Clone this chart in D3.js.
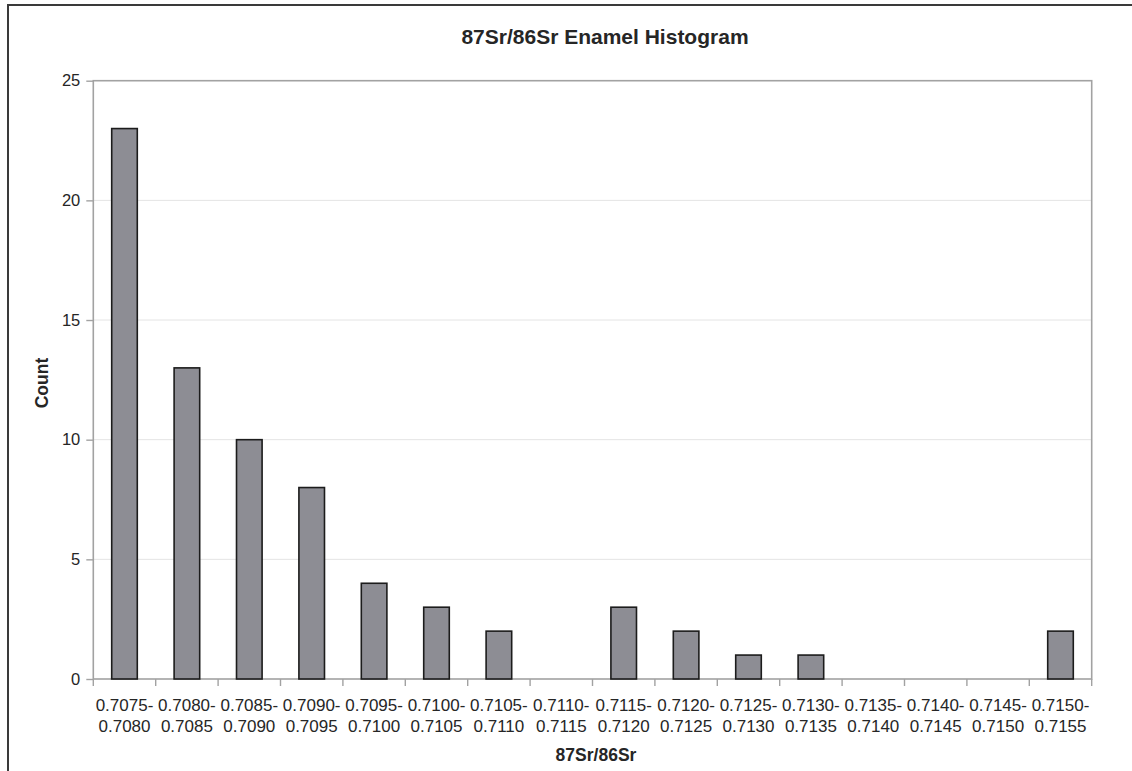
<!DOCTYPE html>
<html>
<head>
<meta charset="utf-8">
<script src="https://cdn.jsdelivr.net/npm/d3@7"></script>
<style>
  html, body { margin: 0; padding: 0; background: #fff; }
  svg { display: block; }
  text { font-family: "Liberation Sans", Arial, sans-serif; fill: #262626; }
</style>
</head>
<body>
<svg id="chart" width="1132" height="771"></svg>
<script>
const binStarts = ["0.7075","0.7080","0.7085","0.7090","0.7095","0.7100","0.7105","0.7110","0.7115","0.7120","0.7125","0.7130","0.7135","0.7140","0.7145","0.7150"];
const binEnds   = ["0.7080","0.7085","0.7090","0.7095","0.7100","0.7105","0.7110","0.7115","0.7120","0.7125","0.7130","0.7135","0.7140","0.7145","0.7150","0.7155"];
const counts    = [23, 13, 10, 8, 4, 3, 2, 0, 3, 2, 1, 1, 0, 0, 0, 2];
const yTicks    = [0, 5, 10, 15, 20, 25];
const chartTitle = "87Sr/86Sr Enamel Histogram";
const xTitle = "87Sr/86Sr";
const yTitle = "Count";

const svg = d3.select("#chart");
const plot = {left: 93.3, top: 80.7, right: 1091.7, bottom: 679};

// outer frame (clipped by the page edges)
svg.append("rect")
  .attr("x", 8).attr("y", 5).attr("width", 1140).attr("height", 800)
  .attr("fill", "none").attr("stroke", "#3a3a3a").attr("stroke-width", 2);

const cats = binStarts.map((s, i) => s + "|" + binEnds[i]);
const x = d3.scaleBand().domain(cats).range([plot.left, plot.right]).paddingInner(0).paddingOuter(0);
const y = d3.scaleLinear().domain([0, 25]).range([plot.bottom, plot.top]);

// gridlines
svg.append("g").selectAll("line").data(yTicks.filter(t => t > 0 && t < 25)).join("line")
  .attr("x1", plot.left).attr("x2", plot.right)
  .attr("y1", d => y(d)).attr("y2", d => y(d))
  .attr("stroke", "#e4e4e4").attr("stroke-width", 1);

// plot border
svg.append("rect")
  .attr("x", plot.left).attr("y", plot.top)
  .attr("width", plot.right - plot.left).attr("height", plot.bottom - plot.top)
  .attr("fill", "none").attr("stroke", "#a2a2a2").attr("stroke-width", 1.6);

// y axis
const yAxis = d3.axisLeft(y).tickValues(yTicks).tickSize(7).tickPadding(6).tickFormat(d3.format("d"));
const gy = svg.append("g").attr("transform", `translate(${plot.left},0)`).call(yAxis);
gy.select(".domain").remove();
gy.selectAll(".tick line").attr("stroke", "#a2a2a2").attr("stroke-width", 1.4);
gy.selectAll(".tick text").attr("font-size", 16.5).attr("fill", "#262626")
  .attr("font-family", "Liberation Sans, Arial, sans-serif");

// x axis ticks at category boundaries
const bounds = cats.map(c => x(c)).concat([plot.right]);
svg.append("g").selectAll("line").data(bounds).join("line")
  .attr("x1", d => d).attr("x2", d => d)
  .attr("y1", plot.bottom).attr("y2", plot.bottom + 7)
  .attr("stroke", "#a2a2a2").attr("stroke-width", 1.4);

// x labels
const xl = svg.append("g").selectAll("text").data(cats).join("text")
  .attr("x", d => x(d) + x.bandwidth() / 2)
  .attr("text-anchor", "middle")
  .attr("font-size", 17);
xl.append("tspan").attr("x", d => x(d) + x.bandwidth() / 2).attr("y", 711).text(d => d.split("|")[0] + "-");
xl.append("tspan").attr("x", d => x(d) + x.bandwidth() / 2).attr("y", 732).text(d => d.split("|")[1]);

// bars
const bw = x.bandwidth() * 0.41;
svg.append("g").selectAll("rect").data(counts.map((v, i) => ({c: cats[i], v})).filter(d => d.v > 0)).join("rect")
  .attr("x", d => x(d.c) + (x.bandwidth() - bw) / 2)
  .attr("y", d => y(d.v))
  .attr("width", bw)
  .attr("height", d => y(0) - y(d.v))
  .attr("fill", "#8d8d94")
  .attr("stroke", "#1c1c1c").attr("stroke-width", 1.6);

// titles
svg.append("text").attr("x", 605).attr("y", 44).attr("text-anchor", "middle")
  .attr("font-size", 21).attr("font-weight", "bold").text(chartTitle);
svg.append("text").attr("x", 596).attr("y", 761).attr("text-anchor", "middle")
  .attr("font-size", 17.5).attr("font-weight", "bold").text(xTitle);
svg.append("text").attr("transform", "translate(48,383) rotate(-90)").attr("text-anchor", "middle")
  .attr("font-size", 17.5).attr("font-weight", "bold").text(yTitle);
</script>
</body>
</html>
